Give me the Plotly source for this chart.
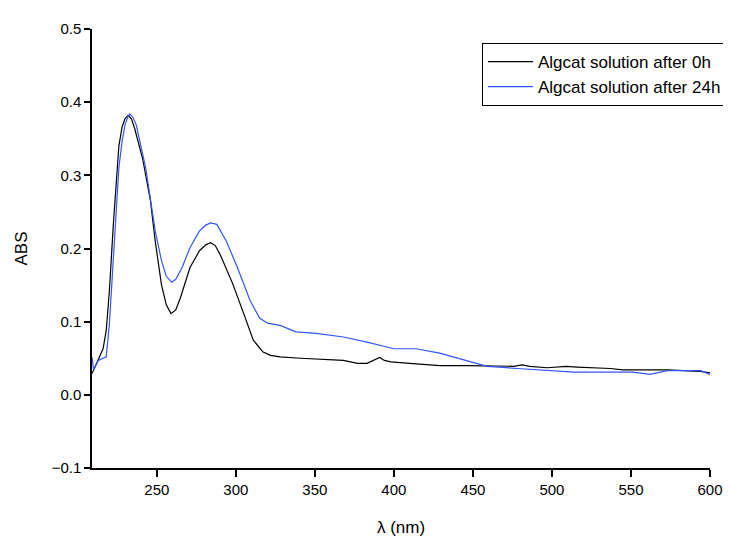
import plotly.graph_objects as go

# Algcat solution after 0h
wl_0h = [209, 212, 216, 218, 220, 222.5, 224.5, 226, 228, 230, 232, 234, 236, 241, 246, 249, 253, 256,
         259, 262, 265, 271, 277, 281, 284, 287, 290, 298, 305, 311, 317, 322, 328, 341, 368, 377, 383,
         388, 391, 394, 398, 410, 429, 446, 457, 476, 481, 486, 497, 509, 516, 537, 545, 562, 573, 594,
         600]
abs_0h = [0.029, 0.043, 0.063, 0.088, 0.142, 0.233, 0.301, 0.340, 0.366, 0.378, 0.382, 0.377, 0.364,
          0.323, 0.265, 0.210, 0.150, 0.123, 0.111, 0.116, 0.133, 0.174, 0.197, 0.205, 0.208, 0.204,
          0.192, 0.152, 0.111, 0.075, 0.059, 0.054, 0.052, 0.050, 0.047, 0.043, 0.043, 0.048, 0.051,
          0.047, 0.045, 0.043, 0.040, 0.040, 0.040, 0.039, 0.041, 0.039, 0.037, 0.039, 0.038, 0.036,
          0.034, 0.034, 0.034, 0.032, 0.030]

# Algcat solution after 24h
wl_24h = [209, 210, 213, 218, 220, 222.5, 224.5, 226, 228, 230, 232, 233, 235, 237, 243, 249, 253, 256,
          259.5, 262, 266, 271, 277, 281, 284, 288, 294, 301, 309, 315, 320, 328, 338, 351, 368, 383,
          400, 414, 429, 446, 459, 478, 499, 514, 551, 562, 573, 594, 600]
abs_24h = [0.052, 0.034, 0.047, 0.052, 0.097, 0.188, 0.269, 0.310, 0.346, 0.370, 0.381, 0.384, 0.379,
           0.369, 0.310, 0.224, 0.183, 0.162, 0.154, 0.158, 0.174, 0.201, 0.224, 0.232, 0.235, 0.233,
           0.210, 0.174, 0.129, 0.105, 0.098, 0.095, 0.086, 0.084, 0.079, 0.072, 0.063, 0.063, 0.057,
           0.047, 0.039, 0.036, 0.033, 0.031, 0.031, 0.028, 0.033, 0.033, 0.028]

series_names = ["Algcat solution after 0h", "Algcat solution after 24h"]
x_ticks = [250, 300, 350, 400, 450, 500, 550, 600]

FONT = "Liberation Sans, Arial, sans-serif"

fig = go.Figure()
fig.add_trace(go.Scatter(x=wl_0h, y=abs_0h, mode="lines", name=series_names[0],
                         line=dict(color="#000000", width=1.2)))
fig.add_trace(go.Scatter(x=wl_24h, y=abs_24h, mode="lines", name=series_names[1],
                         line=dict(color="#3355ff", width=1.2)))

fig.update_layout(
    width=731, height=543,
    margin=dict(l=84, r=29, t=18, b=83),
    paper_bgcolor="white", plot_bgcolor="white",
    font=dict(family=FONT, size=15, color="#000000"),
    showlegend=True,
    legend=dict(x=0.631, y=0.968, xanchor="left", yanchor="top",
                bordercolor="#000000", borderwidth=1, bgcolor="white",
                font=dict(size=17), tracegroupgap=0, itemwidth=45,
                entrywidth=200, entrywidthmode="pixels"),
)
fig.update_xaxes(range=[209, 600], tickvals=x_ticks, showgrid=False, zeroline=False,
                 showline=True, linecolor="#000000", linewidth=1.5,
                 ticks="outside", ticklen=7, tickcolor="#000000", tickwidth=1.5,
                 title=dict(text="λ (nm)", standoff=24, font=dict(size=17)))
fig.update_yaxes(range=[-0.1, 0.5], dtick=0.1, tick0=0, tickformat=".1f", showgrid=False,
                 zeroline=False, showline=True, linecolor="#000000", linewidth=1.5,
                 ticks="outside", ticklen=6, tickcolor="#000000", tickwidth=1.5,
                 title=dict(text="ABS", standoff=20, font=dict(size=17)))

fig.write_html("out.html")
